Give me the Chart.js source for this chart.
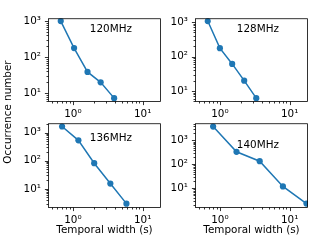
<!DOCTYPE html>
<html>
<head>
<meta charset="utf-8">
<script src="https://cdn.jsdelivr.net/npm/chart.js@4"></script>
<style>
  html, body { margin: 0; padding: 0; background: #fff; }
  #fig { position: relative; width: 320px; height: 240px; overflow: hidden; }
  #fig canvas { position: absolute; }
</style>
</head>
<body>
<div id="fig">
  <canvas id="ylab" width="20" height="240" style="left:0;top:0"></canvas>
  <canvas id="p120"></canvas>
  <canvas id="p128"></canvas>
  <canvas id="p136"></canvas>
  <canvas id="p140"></canvas>
</div>
<script>
// values
const bands = ['120MHz', '128MHz', '136MHz', '140MHz'];

const width120 = [0.67, 1.04, 1.62, 2.5, 3.9];
const count120 = [1000, 178, 39, 20, 7.3];

const width128 = [0.67, 1.0, 1.5, 2.23, 3.32];
const count128 = [1070, 175, 61, 20, 6.2];

const width136 = [0.70, 1.2, 2.02, 3.44, 5.85];
const count136 = [1650, 530, 82, 15.5, 3];

const width140 = [0.80, 1.73, 3.72, 8.0, 17.4];
const count140 = [3800, 336, 136, 12, 2.3];

const xRange = [0.44, 18.3];
const yRanges = [[5.7, 1200], [4.8, 1290], [2.1, 2150], [1.5, 5250]];
const powerLabels = { 1: '10⁰', 10: '10¹', 100: '10²', 1000: '10³' };
const bandLabelAt = [1.75, 500];   // data coords of the band text
const xTitle = 'Temporal width (s)';
const yTitle = 'Occurrence number';

// plot areas in page pixels: left, top, right, bottom
const panels = [
  { id: 'p120', area: [48, 15, 161, 102], bottomRow: false },
  { id: 'p128', area: [195, 15, 308, 102], bottomRow: false },
  { id: 'p136', area: [48, 120, 161, 208], bottomRow: true },
  { id: 'p140', area: [195, 120, 308, 208], bottomRow: true }
];
const series = [[width120, count120], [width128, count128], [width136, count136], [width140, count140]];

const FS = 10.4;
Chart.defaults.font.family = "'DejaVu Sans', sans-serif";
Chart.defaults.font.size = FS;
Chart.defaults.color = '#000';

// shared y label for the whole figure
(function () {
  const c = document.getElementById('ylab').getContext('2d');
  c.save();
  c.translate(10.5, 112);
  c.rotate(-Math.PI / 2);
  c.fillStyle = '#000';
  c.font = FS + "px 'DejaVu Sans'";
  c.textAlign = 'center';
  c.textBaseline = 'alphabetic';
  c.fillText(yTitle, 0, 0);
  c.restore();
})();

function logTicks(min, max) {
  const out = [];
  for (let e = Math.floor(Math.log10(min)); e <= Math.ceil(Math.log10(max)); e++) {
    for (let m = 1; m <= 9; m++) {
      const v = m * Math.pow(10, e);
      if (v >= min && v <= max) out.push({ value: v });
    }
  }
  return out;
}

// ticks (major + minor), the box and the band text
const frameAndTicks = {
  id: 'frameAndTicks',
  afterDraw(chart, args, opts) {
    const { ctx, chartArea: a, scales: { x, y } } = chart;
    ctx.save();
    ctx.strokeStyle = '#000';
    ctx.lineWidth = 0.8;
    ctx.beginPath();
    x.ticks.forEach(t => {
      const px = Math.round(x.getPixelForValue(t.value)) + 0.5;
      const len = powerLabels[t.value] ? 3.6 : 2;
      ctx.moveTo(px, a.bottom - 0.5);
      ctx.lineTo(px, a.bottom - 0.5 + len);
    });
    y.ticks.forEach(t => {
      const py = Math.round(y.getPixelForValue(t.value)) + 0.5;
      const len = powerLabels[t.value] ? 3.6 : 2;
      ctx.moveTo(a.left + 0.5, py);
      ctx.lineTo(a.left + 0.5 - len, py);
    });
    ctx.stroke();
    ctx.strokeRect(a.left + 0.5, a.top + 0.5, a.right - a.left - 1, a.bottom - a.top - 1);

    ctx.fillStyle = '#000';
    ctx.font = FS + "px 'DejaVu Sans'";
    ctx.textAlign = 'left';
    ctx.textBaseline = 'alphabetic';
    ctx.fillText(opts.band, x.getPixelForValue(bandLabelAt[0]), y.getPixelForValue(bandLabelAt[1]));
    ctx.restore();
  }
};

panels.forEach((p, i) => {
  const [L, T, R, B] = p.area;
  const padTop = 10, padRight = 10, yAxisW = 48;
  const canvasTop = T - padTop;
  const canvasH = p.bottomRow ? 240 - canvasTop : (B - T) + padTop + 20;
  const xAxisH = canvasH - padTop - (B - T);

  const canvas = document.getElementById(p.id);
  canvas.width = (R - L) + yAxisW + padRight;
  canvas.height = canvasH;
  canvas.style.left = (L - yAxisW) + 'px';
  canvas.style.top = canvasTop + 'px';

  const [xs, ys] = series[i];

  new Chart(canvas.getContext('2d'), {
    type: 'line',
    data: {
      datasets: [{
        data: xs.map((v, k) => ({ x: v, y: ys[k] })),
        borderColor: '#1f77b4',
        backgroundColor: '#1f77b4',
        borderWidth: 1.5,
        pointRadius: 3.1,
        pointBorderWidth: 0,
        pointBackgroundColor: '#1f77b4',
        tension: 0
      }]
    },
    options: {
      responsive: false,
      animation: false,
      devicePixelRatio: 1,
      layout: { padding: { top: padTop, right: padRight, left: 0, bottom: 0 } },
      plugins: {
        legend: { display: false },
        tooltip: { enabled: false },
        frameAndTicks: { band: bands[i] }
      },
      scales: {
        x: {
          type: 'logarithmic',
          min: xRange[0],
          max: xRange[1],
          bounds: 'data',
          grid: { display: false, drawTicks: false },
          border: { display: false },
          ticks: {
            autoSkip: false, maxRotation: 0, minRotation: 0, padding: 6,
            callback: v => powerLabels[v] || ''
          },
          title: {
            display: p.bottomRow,
            text: xTitle,
            padding: { top: 0, bottom: 3.5 }
          },
          afterBuildTicks: s => { s.ticks = logTicks(s.min, s.max); },
          afterFit: s => { s.height = xAxisH; }
        },
        y: {
          type: 'logarithmic',
          min: yRanges[i][0],
          max: yRanges[i][1],
          bounds: 'data',
          grid: { display: false, drawTicks: false },
          border: { display: false },
          ticks: {
            autoSkip: false, padding: 7,
            callback: v => powerLabels[v] || ''
          },
          afterBuildTicks: s => { s.ticks = logTicks(s.min, s.max); },
          afterFit: s => { s.width = yAxisW; }
        }
      }
    },
    plugins: [frameAndTicks]
  });
});
</script>
</body>
</html>
